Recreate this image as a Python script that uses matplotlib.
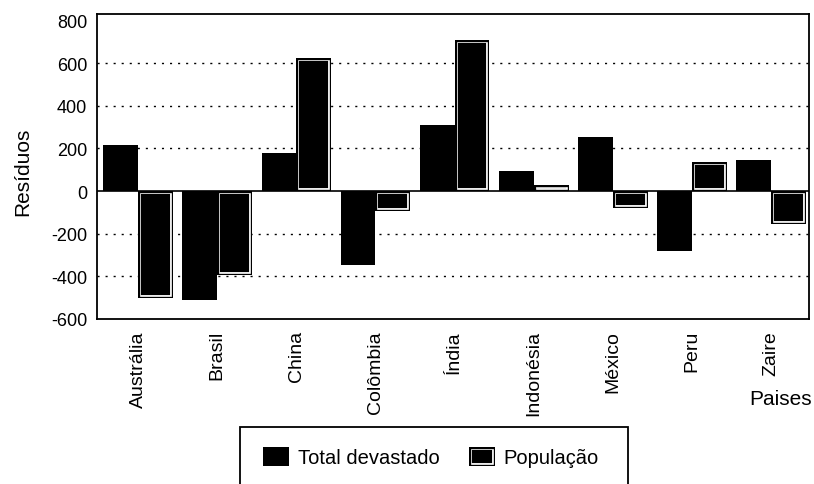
import numpy as np
import matplotlib.pyplot as plt
import matplotlib.patheffects as pe
from matplotlib.patches import Rectangle

paises = ['Austrália', 'Brasil', 'China', 'Colômbia', 'Índia',
          'Indonésia', 'México', 'Peru', 'Zaire']
total_devastado = [215, -510, 180, -348, 310, 95, 253, -280, 145]
populacao = [-500, -395, 625, -93, 710, 30, -80, 135, -155]
y_ticks = [-600, -400, -200, 0, 200, 400, 600, 800]

plt.rcParams['font.family'] = ['Liberation Sans', 'DejaVu Sans']
plt.rcParams['axes.unicode_minus'] = False

fig = plt.figure(figsize=(8.14, 4.85), dpi=100)
ax = fig.add_axes([97 / 814, 165 / 485, 712 / 814, 305 / 485])

x = np.arange(len(paises))
w = 0.44

# dotted grid lines, solid zero line
for y in y_ticks[1:-1]:
    if y == 0:
        ax.axhline(y, color='black', lw=1.2, zorder=1)
    else:
        ax.axhline(y, color='black', lw=1.0, ls=(0, (1.5, 4.3)), zorder=1)

bars_total = ax.bar(x - w, total_devastado, w, align='edge', color='black',
                    lw=0, zorder=2, label='Total devastado')
bars_pop = ax.bar(x, populacao, w, align='edge', color='black',
                  lw=0, zorder=3, label='População')

# black bar with a thin white line inside its outline
frame = [pe.Normal(),
         pe.PathPatchEffect(facecolor='none', edgecolor='white', linewidth=4.2),
         pe.PathPatchEffect(facecolor='none', edgecolor='black', linewidth=2.4)]
for r in bars_pop:
    r.set_path_effects(frame)
    r.set_clip_path(r)

ax.set_xlim(-0.52, 8.48)
ax.set_ylim(-600, 830)
ax.set_yticks(y_ticks)
ax.set_xticks(x)
ax.set_xticklabels(paises, rotation=90, va='top', ha='center')
ax.tick_params(axis='x', length=0, pad=8, labelsize=14)
ax.tick_params(axis='y', length=0, pad=7, labelsize=13)
for s in ax.spines.values():
    s.set_linewidth(1.3)

fig.text(23 / 814, 1 - 172 / 485, 'Resíduos', rotation=90, fontsize=15,
         ha='center', va='center')
fig.text(781 / 814, 1 - 400 / 485, 'Paises', fontsize=15,
         ha='center', va='center')

leg = fig.legend(handles=[bars_total, bars_pop], loc='center left',
                 bbox_to_anchor=(263 / 814, 1 - 458 / 485), ncol=2,
                 frameon=False, fontsize=14.5, borderpad=0, borderaxespad=0,
                 handlelength=1.29, handleheight=1.14, handletextpad=0.45,
                 columnspacing=1.44)
h = leg.legend_handles[1]
h.set_path_effects(frame)
h.set_clip_path(h)

fig.add_artist(Rectangle((240 / 814, -0.05), 388 / 814, 57 / 485 + 0.05,
                         transform=fig.transFigure, fill=False, lw=1.3,
                         ec='black', clip_on=False))

fig.savefig('out.png', dpi=100)
